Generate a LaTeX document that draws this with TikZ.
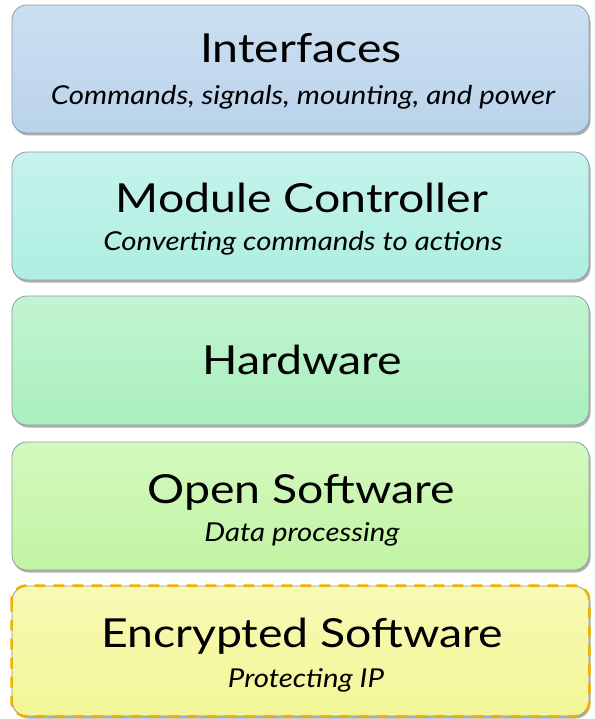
\documentclass[tikz,border=0pt]{standalone}
\usepackage{fontspec}
\setmainfont{Lato}
\newfontfamily\titlefam[FakeStretch=1.16]{Lato}
\newfontfamily\subfam[FakeStretch=1.13]{Lato}
\usetikzlibrary{shadows}
\definecolor{bordergray}{HTML}{8C9AA8}
\definecolor{blueA}{HTML}{CCDFF1}
\definecolor{blueB}{HTML}{BAD3EB}
\definecolor{cyanA}{HTML}{C6F3EC}
\definecolor{cyanB}{HTML}{AEEEE0}
\definecolor{greenA}{HTML}{C2F4D2}
\definecolor{greenB}{HTML}{A9EFBC}
\definecolor{limeA}{HTML}{D4F9BE}
\definecolor{limeB}{HTML}{C1F4A3}
\definecolor{yelA}{HTML}{F8F9B4}
\definecolor{yelB}{HTML}{F3F696}
\definecolor{dashorange}{HTML}{F0B000}
\begin{document}
\begin{tikzpicture}[x=1pt,y=-1pt,
  layerbox/.style={rounded corners=15pt, draw=bordergray, line width=0.8pt,
    minimum width=577pt, inner sep=0pt,
    drop shadow={shadow xshift=1.5pt, shadow yshift=-2.5pt, opacity=0.45, fill=black!70}},
  titletext/.style={anchor=base, font=\titlefam\fontsize{40}{44}\selectfont, text=black},
  subtext/.style={anchor=base, font=\subfam\fontsize{26}{30}\selectfont\itshape, text=black}]
\path[use as bounding box] (0,0) rectangle (594,719);

\node[layerbox, top color=blueA, bottom color=blueB, minimum height=128pt] (interfaces) at (300.5,69) {};
\node[titletext] (interfacesT) at (301,63) {Interfaces};
\node[subtext] (interfacesS) at (303,105) {Commands, signals, mounting, and power};

\node[layerbox, top color=cyanA, bottom color=cyanB, minimum height=128pt] (controller) at (300.5,216) {};
\node[titletext] (controllerT) at (302,212) {Module Controller};
\node[subtext] (controllerS) at (303,250) {Converting commands to actions};

\node[layerbox, top color=greenA, bottom color=greenB, minimum height=129pt] (hardware) at (300.5,360.5) {};
\node[titletext] (hardwareT) at (302,374) {Hardware};

\node[layerbox, top color=limeA, bottom color=limeB, minimum height=128pt] (open) at (300.5,506) {};
\node[titletext] (openT) at (301,503) {Open Software};
\node[subtext] (openS) at (302,541) {Data processing};

\node[layerbox, top color=yelA, bottom color=yelB, minimum height=130pt] (encrypted) at (300.5,651) {};
\draw[dashorange, line width=2.6pt, dash pattern=on 11pt off 8pt, rounded corners=15pt]
  (encrypted.north west) rectangle (encrypted.south east);
\node[titletext] (encryptedT) at (302,647) {Encrypted Software};
\node[subtext] (encryptedS) at (306,687) {Protecting IP};
\end{tikzpicture}
\end{document}
